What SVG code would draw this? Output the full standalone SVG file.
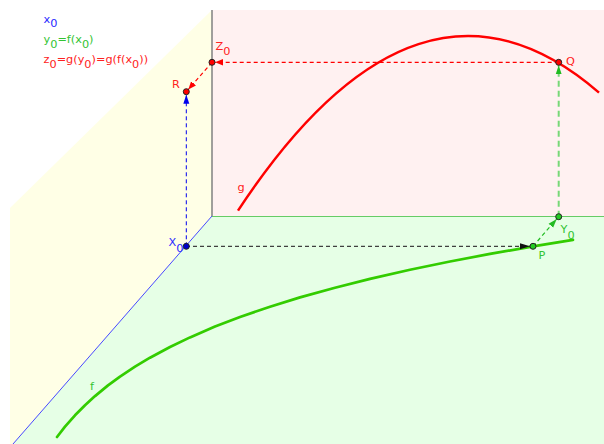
<svg xmlns="http://www.w3.org/2000/svg" width="604" height="444" viewBox="0 0 604 444">
<style>
text{font-family:"DejaVu Sans","Liberation Sans",sans-serif;font-size:11.3px}
.tb{fill:#2a2aff}.tg{fill:#33c433}.tr{fill:#ff2222}
.dash{fill:none;stroke-dasharray:4 3}
.pt{stroke:#222;stroke-width:1}
</style>
<defs>
<marker id="ak" markerUnits="userSpaceOnUse" markerWidth="14" markerHeight="8" refX="13" refY="4" orient="auto"><path d="M0,1 L10,4 L0,7 z" fill="#111"/></marker>
<marker id="ar" markerUnits="userSpaceOnUse" markerWidth="12" markerHeight="8" refX="11" refY="4" orient="auto"><path d="M0,0.8 L8,4 L0,7.2 z" fill="#ff0000"/></marker>
<marker id="ab" markerUnits="userSpaceOnUse" markerWidth="13" markerHeight="8" refX="12" refY="4" orient="auto"><path d="M0,1 L9,4 L0,7 z" fill="#0000ee"/></marker>
<marker id="ag" markerUnits="userSpaceOnUse" markerWidth="13" markerHeight="8" refX="12" refY="4" orient="auto"><path d="M0,1 L9,4 L0,7 z" fill="#22bb22"/></marker>
</defs>
<g id="planes">
<polygon points="10,208 212,10 212,216 13,444 10,444" fill="#ffffe6"/>
<rect x="212" y="10" width="392" height="206" fill="#fff1f1"/>
<polygon points="212,216 604,216 604,444 13,444" fill="#e6ffe6"/>
<line x1="212" y1="10" x2="212" y2="216" stroke="#808080" stroke-width="1.5"/>
<line x1="212" y1="216.5" x2="604" y2="216.5" stroke="#66cc66" stroke-width="1.2"/>
<line x1="212" y1="216" x2="13" y2="444" stroke="#4848ff" stroke-width="1"/>
</g>
<g id="curves">
<path id="g-curve" d="M238,210.6 Q418.5,-63.4 599,92.6" fill="none" stroke="#ff0000" stroke-width="2.5"/>
<path id="f-curve" d="M57,437 L65,426.7 L75,415.3 L85,405.2 L95,396.1 L108,385.4 L120,376.6 L135,366.7 L150,357.7 L170,347 L190,337.4 L215,326.6 L240,317 L270,306.7 L300,297.4 L335,287.7 L370,278.9 L410,269.8 L450,261.5 L490,253.9 L533,246.4 L573,239.9" fill="none" stroke="#33cc00" stroke-width="2.7" stroke-linejoin="round" stroke-linecap="round"/>
</g>
<g id="connectors">
<line class="dash" x1="186" y1="246.3" x2="533" y2="246.3" stroke="#404040" stroke-width="1.3" marker-end="url(#ak)"/>
<line class="dash" x1="186.3" y1="246.3" x2="186.3" y2="91.7" stroke="#0000ee" stroke-width="1" marker-end="url(#ab)"/>
<line class="dash" x1="558.7" y1="62.3" x2="212" y2="62.3" stroke="#ff0000" stroke-width="1.2" marker-end="url(#ar)"/>
<line class="dash" x1="212" y1="62.3" x2="186.3" y2="91.7" stroke="#ff0000" stroke-width="1.2" marker-end="url(#ar)"/>
<line x1="558.7" y1="216.7" x2="558.7" y2="62.3" fill="none" stroke="#77d877" stroke-width="2" stroke-dasharray="6 4" marker-end="url(#ag)"/>
<line class="dash" x1="533" y1="246.3" x2="558.7" y2="216.7" stroke="#22bb22" stroke-width="1.2" stroke-dasharray="3 3" marker-end="url(#ag)"/>
</g>
<g id="X0"><circle class="pt" cx="186.3" cy="246.3" r="3" fill="#0000cc"/><text class="tb" x="168.5" y="246">X<tspan dy="6">0</tspan></text></g>
<g id="R"><circle class="pt" cx="186.3" cy="91.7" r="3" fill="#ff0000"/><text class="tr" x="172" y="87.5">R</text></g>
<g id="Z0"><circle class="pt" cx="212" cy="62.3" r="3" fill="#ff0000"/><text class="tr" x="215.5" y="49.5">Z<tspan dy="5">0</tspan></text></g>
<g id="Q"><circle class="pt" cx="558.7" cy="62.3" r="3" fill="#ff0000"/><text class="tr" x="566" y="65">Q</text></g>
<g id="Y0"><circle class="pt" cx="558.7" cy="216.7" r="3" fill="#22cc22"/><text class="tg" x="560.5" y="232.5">Y<tspan dy="6">0</tspan></text></g>
<g id="P"><circle class="pt" cx="533" cy="246.3" r="3" fill="#22cc22"/><text class="tg" x="538.5" y="258.5">P</text></g>
<g id="labels">
<text class="tr" x="237.5" y="190.5">g</text>
<text class="tg" x="90" y="390">f</text>
</g>
<g id="legend">
<text class="tb" x="43.5" y="22.5">x<tspan dy="4.5">0</tspan></text>
<text class="tg" x="43.5" y="43">y<tspan dy="4.5">0</tspan><tspan dy="-4.5">=f(x</tspan><tspan dy="4.5">0</tspan><tspan dy="-4.5">)</tspan></text>
<text class="tr" x="43.5" y="63">z<tspan dy="4.5">0</tspan><tspan dy="-4.5">=g(y</tspan><tspan dy="4.5">0</tspan><tspan dy="-4.5">)=g(f(x</tspan><tspan dy="4.5">0</tspan><tspan dy="-4.5">))</tspan></text>
</g>
</svg>
